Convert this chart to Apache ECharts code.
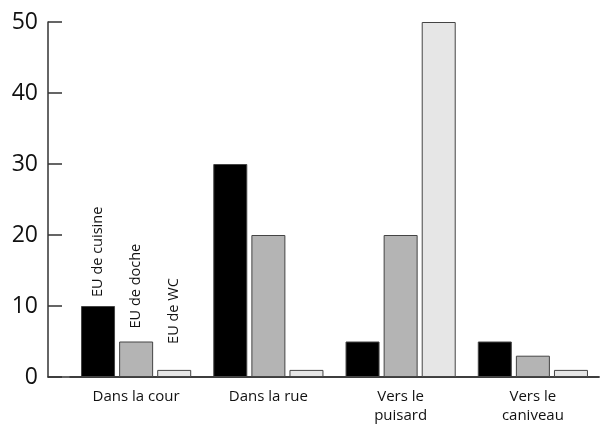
<!DOCTYPE html>
<html>
<head>
<meta charset="utf-8">
<script src="https://cdn.jsdelivr.net/npm/echarts@6/dist/echarts.min.js"></script>
<style>html,body{margin:0;padding:0;background:#fff}#c{width:607px;height:425px}</style>
</head>
<body>
<div id="c"></div>
<script>
const categories = ['Dans la cour', 'Dans la rue', 'Vers le\npuisard', 'Vers le\ncaniveau'];
const seriesNames = ['EU de cuisine', 'EU de doche', 'EU de WC'];
const cuisine = [10, 30, 5, 5];
const doche = [5, 20, 20, 3];
const wc = [1, 1, 50, 1];
const yTicks = [0, 10, 20, 30, 40, 50];

const colors = ['#000000', '#b4b4b4', '#e6e6e6'];
const labelDist = [9, 13, 26];
const FONT = '"Open Sans", "Noto Sans", sans-serif';

function mkSeries(name, vals, i) {
  return {
    name: name,
    type: 'bar',
    barWidth: 34,
    barGap: '12%',
    xAxisIndex: 0, yAxisIndex: 0,
    itemStyle: { color: colors[i], borderColor: '#444', borderWidth: 1 },
    data: vals.map((v, k) => k === 0 ? {
      value: v,
      label: {
        show: true, position: 'top', rotate: 90, align: 'left', verticalAlign: 'middle',
        distance: labelDist[i], formatter: name, fontSize: 14.5, color: '#111', fontFamily: FONT
      }
    } : v),
    animation: false
  };
}

const chart = echarts.init(document.getElementById('c'));
chart.setOption({
  animation: false,
  grid: [
    { left: 70, right: 8, top: 22, bottom: 48 },
    { left: 48, right: 8, top: 22, bottom: 48 }
  ],
  xAxis: [
    {
      type: 'category', data: categories, gridIndex: 0,
      axisLine: { lineStyle: { color: '#333', width: 1.5 } },
      axisTick: { show: false },
      axisLabel: { fontSize: 15, color: '#111', fontFamily: FONT, margin: 10, lineHeight: 19 }
    },
    {
      type: 'value', gridIndex: 1, min: 0, max: 1,
      axisLine: { show: true, onZero: false, lineStyle: { color: '#333', width: 1.5 } },
      axisTick: { show: false }, axisLabel: { show: false }, splitLine: { show: false }
    }
  ],
  yAxis: [
    {
      type: 'value', gridIndex: 0, min: yTicks[0], max: yTicks[yTicks.length - 1], interval: 10,
      offset: 22,
      axisLine: { show: true, lineStyle: { color: '#333', width: 1.5 } },
      axisTick: { show: true, inside: true, length: 14, lineStyle: { color: '#333', width: 1.5 } },
      axisLabel: { fontSize: 23, color: '#111', fontFamily: FONT, margin: 10 },
      splitLine: { show: false }
    },
    { type: 'value', gridIndex: 1, show: false }
  ],
  series: [
    mkSeries(seriesNames[0], cuisine, 0),
    mkSeries(seriesNames[1], doche, 1),
    mkSeries(seriesNames[2], wc, 2)
  ]
});
</script>
</body>
</html>
